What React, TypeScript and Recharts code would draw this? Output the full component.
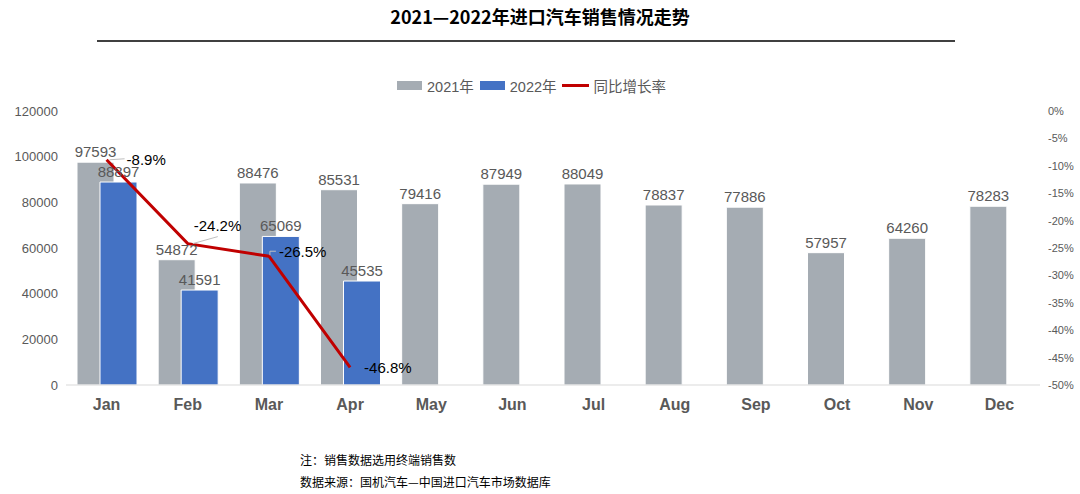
import React from 'react';
import {
  ComposedChart, Bar, Line, XAxis, YAxis, LabelList,
} from 'recharts';

const months = ['Jan', 'Feb', 'Mar', 'Apr', 'May', 'Jun', 'Jul', 'Aug', 'Sep', 'Oct', 'Nov', 'Dec'];
const sales2021 = [97593, 54872, 88476, 85531, 79416, 87949, 88049, 78837, 77886, 57957, 64260, 78283];
const sales2022: (number | null)[] = [88897, 41591, 65069, 45535, null, null, null, null, null, null, null, null];
const yoyGrowth: (number | null)[] = [-8.9, -24.2, -26.5, -46.8, null, null, null, null, null, null, null, null];
const leftTicks = [0, 20000, 40000, 60000, 80000, 100000, 120000];
const rightTicks = [0, -5, -10, -15, -20, -25, -30, -35, -40, -45, -50];

const data = months.map((m, i) => ({
  month: m,
  y2021: sales2021[i],
  y2022: sales2022[i],
  yoy: yoyGrowth[i],
}));

// where the growth-rate labels sit (dx, dy from the point), with leader lines
const pctLabelPos = [
  { dx: 20, dy: 0, leader: true },
  { dx: 6, dy: -18, leader: true },
  { dx: 10, dy: -4, leader: true },
  { dx: 14, dy: 1, leader: false },
];

const GRAY = '#A5ACB3';
const BLUE = '#4472C4';
const RED = '#C00000';
const TEXT = '#595959';
const FONT = '"Liberation Sans", Arial, "Noto Sans CJK SC", sans-serif';

const PctLabel = (props: any) => {
  const { x, y, value, index } = props;
  if (value == null) return null;
  const p = pctLabelPos[index] || { dx: 10, dy: 0, leader: false };
  const tx = x + p.dx;
  const ty = y + p.dy;
  let pts = `${x + 3},${y} ${tx - 2},${ty - 1}`;
  if (index === 1) pts = `${x + 5},${y} ${x + 30},${y - 7}`;
  if (index === 2) pts = `${x + 1},${y - 1} ${x + 1},${y - 5} ${tx - 3},${y - 5}`;
  return (
    <g>
      {p.leader && <polyline points={pts} fill="none" stroke="#BFBFBF" strokeWidth={1} />}
      <text x={tx} y={ty} dy={5} fill="#000" fontSize={15} fontFamily={FONT} textAnchor="start">
        {`${value}%`}
      </text>
    </g>
  );
};

const Legend = () => (
  <div style={{ position: 'absolute', top: 75, left: 397, display: 'flex', alignItems: 'center', fontSize: 14.5, color: TEXT, fontFamily: FONT, whiteSpace: 'nowrap' }}>
    <span style={{ width: 25, height: 9, background: GRAY, display: 'inline-block', marginRight: 5 }} />
    <span style={{ marginRight: 6 }}>2021年</span>
    <span style={{ width: 25, height: 9, background: BLUE, display: 'inline-block', marginRight: 5 }} />
    <span style={{ marginRight: 5 }}>2022年</span>
    <span style={{ width: 27, height: 3, background: RED, display: 'inline-block', marginRight: 5 }} />
    <span>同比增长率</span>
  </div>
);

export default function App() {
  return (
    <div style={{ position: 'fixed', left: 0, top: 0, width: 1080, height: 494, background: '#fff', fontFamily: FONT }}>
      <div style={{ position: 'absolute', top: 3, left: 0, width: 1080, textAlign: 'center', fontSize: 18, fontWeight: 'bold', color: '#000', fontFamily: '"Noto Sans CJK SC", sans-serif' }}>
        2021—2022年进口汽车销售情况走势
      </div>
      <div style={{ position: 'absolute', top: 40, left: 97, width: 858, height: 2, background: '#404040' }} />
      <Legend />
      <ComposedChart
        width={1080}
        height={494}
        data={data}
        margin={{ top: 111, right: 5, bottom: 79, left: 6 }}
        barGap={-14}
        barSize={37}
      >
        <XAxis
          dataKey="month"
          height={30}
          axisLine={{ stroke: '#D9D9D9' }}
          tickLine={false}
          tick={{ fill: TEXT, fontSize: 16, fontWeight: 'bold', fontFamily: FONT }}
          dy={6}
        />
        <YAxis
          yAxisId="left"
          width={60}
          domain={[0, 120000]}
          ticks={leftTicks}
          axisLine={false}
          tickLine={false}
          tick={{ fill: TEXT, fontSize: 13, fontFamily: FONT }}
        />
        <YAxis
          yAxisId="right"
          orientation="right"
          width={35}
          domain={[-50, 0]}
          ticks={rightTicks}
          axisLine={false}
          tickLine={false}
          tickFormatter={(v: number) => `${v}%`}
          tick={{ fill: TEXT, fontSize: 11, fontFamily: FONT }}
        />
        <Bar yAxisId="left" dataKey="y2021" fill={GRAY} stroke="#fff" strokeWidth={1} isAnimationActive={false}>
          <LabelList dataKey="y2021" position="top" fill={TEXT} fontSize={15} fontFamily={FONT} offset={5} />
        </Bar>
        <Bar yAxisId="left" dataKey="y2022" fill={BLUE} stroke="#fff" strokeWidth={1} isAnimationActive={false}>
          <LabelList dataKey="y2022" position="top" fill={TEXT} fontSize={15} fontFamily={FONT} offset={5} />
        </Bar>
        <Line
          yAxisId="right"
          dataKey="yoy"
          stroke={RED}
          strokeWidth={3}
          dot={false}
          activeDot={false}
          connectNulls={false}
          isAnimationActive={false}
        >
          <LabelList dataKey="yoy" content={PctLabel} />
        </Line>
      </ComposedChart>
      <div style={{ position: 'absolute', top: 449, left: 300, fontSize: 12, color: '#000', fontFamily: '"Noto Sans CJK SC", sans-serif', lineHeight: '22px' }}>
        <div>注：销售数据选用终端销售数</div>
        <div>数据来源：国机汽车—中国进口汽车市场数据库</div>
      </div>
    </div>
  );
}
